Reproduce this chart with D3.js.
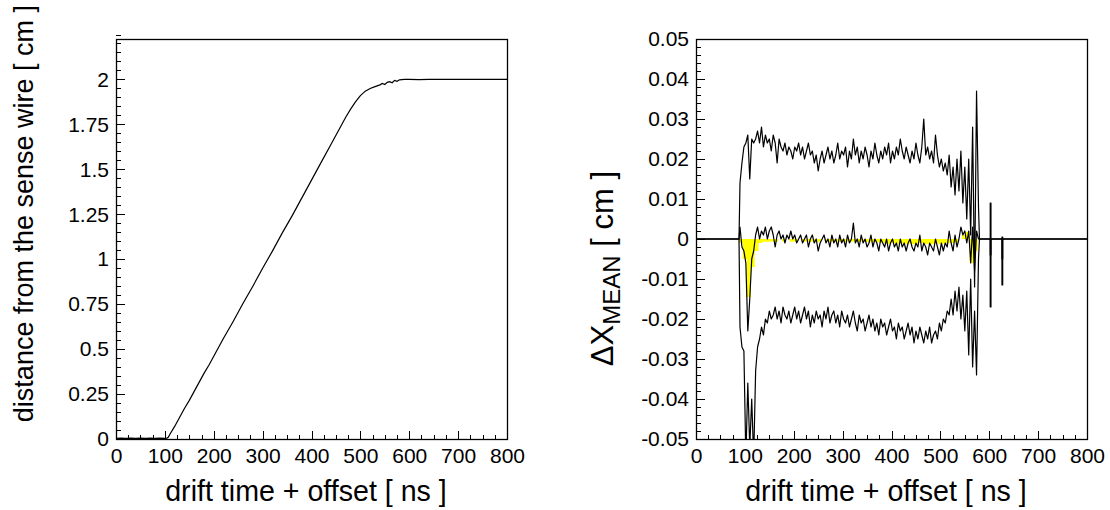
<!DOCTYPE html>
<html><head><meta charset="utf-8">
<script src="https://cdn.jsdelivr.net/npm/d3@7"></script>
<style>
body{margin:0;background:#fff}
svg{display:block}
</style>
</head><body>
<svg id="c" width="1110" height="510"></svg>
<script>
// ---------------- DATA ----------------
// shared x axis ticks (ns)
const xTicks = [0,100,200,300,400,500,600,700,800];
const xTickLabels = ["0","100","200","300","400","500","600","700","800"];

// left panel: x-t relation (drift time [ns] -> distance [cm])
const leftT = [0,10,20,30,40,50,60,70,80,90,100,104,107,110,120,130,140,150,160,170,180,190,200,
  220,240,260,280,300,320,340,360,380,400,420,440,460,470,480,490,500,510,520,530,540,545,
  550,555,560,565,570,575,580,590,600,620,640,700,800];
const leftX = [0.004,0.005,0.004,0.005,0.004,0.005,0.004,0.005,0.004,0.005,0.004,0.005,0.01,0.025,0.07,0.12,0.17,0.215,0.265,0.315,0.365,0.41,0.46,
  0.56,0.655,0.755,0.85,0.95,1.045,1.145,1.24,1.34,1.44,1.54,1.64,1.74,1.79,1.835,1.875,1.91,1.935,1.95,1.96,1.97,1.978,
  1.972,1.984,1.988,1.982,1.995,1.99,1.998,2.0,2.0,1.999,2.0,2.0,2.0];
const leftYTicks = [0,0.25,0.5,0.75,1,1.25,1.5,1.75,2];
const leftYLabels = ["0","0.25","0.5","0.75","1","1.25","1.5","1.75","2"];

// right panel: residual histograms, bins of 4 ns starting at 88 ns, values in 1e-3 cm
const resBinStart = 88, resBinWidth = 4;
const upperE3 = [
  14,19,23,24,26,15,25,24,25,27,
  24,28,23,26,24,25,22,26,24,19,
  25,23,22,24,21,23,22,20,23,22,
  24,21,23,20,22,24,21,22,19,21,
  17,20,22,19,21,23,20,22,19,21,
  24,20,22,21,23,18,22,20,25,21,
  23,19,22,20,23,21,18,22,20,24,
  21,19,22,20,23,21,24,19,22,20,
  23,21,25,22,20,23,21,19,22,20,
  24,21,19,23,30,21,23,20,22,19,
  26,21,18,20,17,19,16,21,13,18,
  11,20,12,22,9,18,5,20,1,28,
  -12,37,8];
const lowerE3 = [
  -22,-27,-28,-55,-36,-52,-40,-55,-33,-27,
  -25,-22,-24,-20,-21,-18,-20,-19,-17,-20,
  -18,-21,-17,-19,-20,-18,-21,-19,-17,-20,
  -18,-21,-19,-17,-20,-18,-22,-19,-21,-18,
  -20,-19,-22,-18,-20,-17,-21,-19,-18,-21,
  -19,-22,-18,-20,-21,-19,-22,-20,-18,-21,
  -23,-19,-21,-20,-23,-21,-19,-22,-20,-23,
  -21,-24,-20,-22,-21,-24,-22,-20,-23,-22,
  -25,-21,-23,-22,-25,-23,-21,-24,-22,-26,
  -23,-25,-22,-24,-26,-23,-25,-22,-26,-24,
  -23,-25,-21,-23,-20,-21,-18,-19,-15,-19,
  -13,-18,-12,-20,-14,-23,-13,-29,-10,-32,
  -18,-34,-5];
const meanE3 = [
  3,-2,-3,-6,-23,-15,-5,-3,1,3,
  0,2,1,3,0,2,3,1,-2,1,
  2,0,1,-1,1,0,2,0,1,-1,
  0,1,-1,0,1,-2,0,1,-1,0,
  -3,-1,0,1,-1,0,-2,1,-1,0,
  -2,1,-1,0,-2,1,-1,0,4,-1,
  0,-2,1,-1,0,-2,-1,1,-2,0,
  -1,-3,0,-1,-2,0,-3,-1,0,-2,
  -1,-3,0,-2,-1,-3,-1,0,-2,-3,
  -1,-2,1,-3,-1,-2,-4,-1,-2,-3,
  0,-2,-4,-1,-3,-1,-2,2,-1,-3,
  1,-2,0,3,1,2,-1,2,-6,3,
  -8,2,0];
// yellow filled histogram, bins of 8 ns starting at 88 ns, values in 1e-3 cm
const fillBinStart = 88, fillBinWidth = 8;
const fillE3 = [
  -1,-5,-14.5,-7,-3,-1,-0.7,-0.7,-0.6,-0.7,
  0,-0.6,0,-0.7,-0.6,0,-0.7,-0.6,-0.7,-0.6,
  -0.7,0,-0.6,-0.7,-0.6,-0.7,-0.6,-0.7,-0.7,-0.6,
  -0.7,-0.6,-0.7,-0.8,-0.7,-0.8,-0.9,-1.2,-1.2,-1,
  -1.3,-1,-1.3,-1.2,-1.3,-1.2,-1,-1.3,-1.2,-1.3,
  -1,-1.3,-1.2,-1,-1,-0.8,0,1,1.8,-6,
  -3];
// isolated late bins (ns) with their values (1e-3 cm)
const lateBins = [602,626];
const lateUpperE3 = [9,0.5];
const lateLowerE3 = [-17,-11.5];
const lateMeanE3 = [-4,-5];
const lateBinWidth = 1.5;

const rightYTicks = [-0.05,-0.04,-0.03,-0.02,-0.01,0,0.01,0.02,0.03,0.04,0.05];
const rightYLabels = ["-0.05","-0.04","-0.03","-0.02","-0.01","0","0.01","0.02","0.03","0.04","0.05"];

// ---------------- DRAW ----------------
const FONT = '"Liberation Sans", Arial, Helvetica, sans-serif';
const svg = d3.select("#c");
svg.append("rect").attr("width",1110).attr("height",510).attr("fill","#fff");

function makePanel(P, yDomain, yTicks, yLabels, yMinorStep, clipId) {
  const x = d3.scaleLinear().domain([0,800]).range([P.x0,P.x1]);
  const y = d3.scaleLinear().domain(yDomain).range([P.y1,P.y0]);
  const g = svg.append("g");
  const xMinor = d3.range(0,800.001,25).filter(v=>v%100!==0);
  const gxm = g.append("g").attr("transform",`translate(0,${P.y1})`)
    .call(d3.axisBottom(x).tickValues(xMinor).tickFormat("").tickSizeInner(-4).tickSizeOuter(0));
  gxm.select(".domain").remove();
  const gx = g.append("g").attr("transform",`translate(0,${P.y1})`)
    .call(d3.axisBottom(x).tickValues(xTicks).tickFormat((d,i)=>xTickLabels[i])
      .tickSizeInner(-8).tickSizeOuter(0).tickPadding(9));
  gx.select(".domain").remove();
  gx.attr("font-size",21).attr("font-family",FONT);
  const n = Math.round((yDomain[1]-yDomain[0])/yMinorStep);
  const yMinor = d3.range(0,n+1).map(i=>yDomain[0]+i*yMinorStep)
      .filter(v=>!yTicks.some(t=>Math.abs(t-v)<yMinorStep/10));
  const gym = g.append("g").attr("transform",`translate(${P.x0},0)`)
    .call(d3.axisLeft(y).tickValues(yMinor).tickFormat("").tickSizeInner(-4.5).tickSizeOuter(0));
  gym.select(".domain").remove();
  const gy = g.append("g").attr("transform",`translate(${P.x0},0)`)
    .call(d3.axisLeft(y).tickValues(yTicks).tickFormat((d,i)=>yLabels[i])
      .tickSizeInner(-9).tickSizeOuter(0).tickPadding(7));
  gy.select(".domain").remove();
  gy.attr("font-size",21).attr("font-family",FONT);
  g.selectAll(".tick line").attr("stroke","#000").attr("stroke-width",1).attr("shape-rendering","crispEdges");
  svg.append("clipPath").attr("id",clipId).append("rect")
    .attr("x",P.x0).attr("y",P.y0).attr("width",P.x1-P.x0).attr("height",P.y1-P.y0);
  const data = svg.append("g").attr("clip-path",`url(#${clipId})`);
  return {x,y,g,data};
}

function frame(P){
  svg.append("rect").attr("x",P.x0+0.5).attr("y",P.y0+0.5).attr("width",P.x1-P.x0).attr("height",P.y1-P.y0)
    .attr("fill","none").attr("stroke","#000").attr("stroke-width",1.3);
}

// ---- left
const PL = {x0:116, x1:507, y0:39, y1:439};
const L = makePanel(PL, [0,2.225], leftYTicks, leftYLabels, 0.05, "clipL");
L.data.append("path")
  .datum(leftT.map((t,i)=>[t,leftX[i]]))
  .attr("fill","none").attr("stroke","#000").attr("stroke-width",1.2)
  .attr("d", d3.line().x(d=>L.x(d[0])).y(d=>L.y(d[1])));
frame(PL);

// ---- right
const PR = {x0:696, x1:1087, y0:39, y1:439};
const R = makePanel(PR, [-0.05,0.05], rightYTicks, rightYLabels, 0.002, "clipR");

// step outline for coarse filled histogram
function stepPts(vals, start, width) {
  const pts = [[0,0],[start,0]];
  vals.forEach((v,i)=>{ pts.push([start+i*width, v/1000]); pts.push([start+(i+1)*width, v/1000]); });
  const end = start + vals.length*width;
  pts.push([end,0]); pts.push([800,0]);
  return pts;
}
// fine histogram: drawn through bin centres (dense), isolated late bins as thin bars
function finePts(vals, start, width, lateVals) {
  const pts = [[0,0],[start,0]];
  vals.forEach((v,i)=>pts.push([start+(i+0.5)*width, v/1000]));
  let end = start + vals.length*width;
  pts.push([end,0]);
  lateBins.forEach((t,i)=>{
    pts.push([t,0]); pts.push([t,lateVals[i]/1000]);
    pts.push([t+lateBinWidth,lateVals[i]/1000]); pts.push([t+lateBinWidth,0]);
  });
  pts.push([800,0]);
  return pts;
}
const lineR = d3.line().x(d=>R.x(d[0])).y(d=>R.y(d[1]));
const areaR = d3.area().x(d=>R.x(d[0])).y0(R.y(0)).y1(d=>R.y(d[1]));

R.data.append("path").datum(stepPts(fillE3, fillBinStart, fillBinWidth))
  .attr("fill","#ffff00").attr("stroke","none").attr("d", areaR);
[ [upperE3, lateUpperE3], [lowerE3, lateLowerE3], [meanE3, lateMeanE3] ].forEach(([vals,late])=>{
  R.data.append("path").datum(finePts(vals, resBinStart, resBinWidth, late))
    .attr("fill","none").attr("stroke","#000").attr("stroke-width",1.2)
    .attr("stroke-linejoin","round").attr("d", lineR);
});
frame(PR);

// ---- titles
function txt(x,y,s,size,rot,anchor){
  const t = svg.append("text").attr("font-family",FONT).attr("font-size",size).attr("fill","#000")
    .attr("text-anchor",anchor||"middle")
    .attr("transform",`translate(${x},${y})${rot?" rotate(-90)":""}`);
  t.text(s);
  return t;
}
txt(306,501,"drift time + offset [ ns ]",28.6);
txt(886,501,"drift time + offset [ ns ]",28.6);
txt(33,5,"distance from the sense wire [ cm ]",27,true,"end");
const ty = svg.append("text").attr("font-family",FONT).attr("font-size",31).attr("fill","#000")
  .attr("text-anchor","end").attr("transform","translate(613,171) rotate(-90)");
ty.append("tspan").text("\u0394X");
ty.append("tspan").attr("font-size",24).attr("dy",7).text("MEAN");
ty.append("tspan").attr("dy",-7).text(" [ cm ]");
</script>
</body></html>
